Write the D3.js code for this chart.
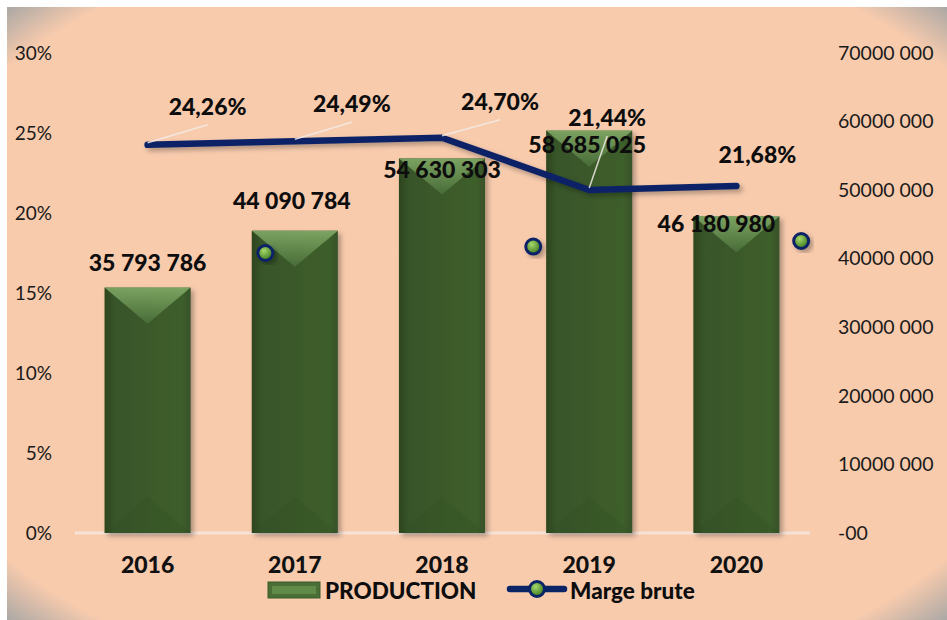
<!DOCTYPE html>
<html>
<head>
<meta charset="utf-8">
<script src="https://cdn.jsdelivr.net/npm/d3@7"></script>
<style>
  body { margin: 0; background: #fff; }
  svg { display: block; font-family: Lato, "Open Sans", sans-serif; }
</style>
</head>
<body>
<svg></svg>
<script>
// chart data
let years = ['2016', '2017', '2018', '2019', '2020'];
let production = [35793786, 44090784, 54630303, 58685025, 46180980];
let productionLabels = ['35 793 786', '44 090 784', '54 630 303', '58 685 025', '46 180 980'];
let marge = [24.26, 24.49, 24.70, 21.44, 21.68];
let margeLabels = ['24,26%', '24,49%', '24,70%', '21,44%', '21,68%'];
// stray markers of the line series (category position, value %)
let markerPos = [0.8, 2.62, 4.44];
let markerVals = [17.5, 17.9, 18.25];
let leftTicks = [0, 5, 10, 15, 20, 25, 30];
let leftTickLabels = ['0%', '5%', '10%', '15%', '20%', '25%', '30%'];
let rightTicks = [0, 10e6, 20e6, 30e6, 40e6, 50e6, 60e6, 70e6];
let rightTickLabels = ['-00', '10000 000', '20000 000', '30000 000', '40000 000', '50000 000', '60000 000', '70000 000'];

// label offsets (layout only)
let barLabelOff = [[0, -25], [-3, -30], [0, 12], [-2, 14], [-20, 8]];
let pctLabelOff = [[60, -38], [57, -37], [58, -36], [18, -72], [21, -31]];
let showLeader = [true, true, true, true, false];

let width = 947;
let height = 620;
let plotTop = 53, plotBottom = 533;
let plotLeft = 74, plotRight = 810;

let svg = d3.select('svg').attr('width', width).attr('height', height);
let defs = svg.append('defs');

let bg = defs.append('radialGradient').attr('id', 'bg')
    .attr('cx', 0.5).attr('cy', 0.5).attr('r', 0.71);
bg.append('stop').attr('offset', 0).attr('stop-color', '#f8cbad');
bg.append('stop').attr('offset', 0.9).attr('stop-color', '#f8cbad');
bg.append('stop').attr('offset', 1).attr('stop-color', '#a8a6a4');

let barGrad = defs.append('linearGradient').attr('id', 'barGrad')
    .attr('x1', 0).attr('x2', 1).attr('y1', 0).attr('y2', 0);
barGrad.append('stop').attr('offset', 0).attr('stop-color', '#2c451d');
barGrad.append('stop').attr('offset', 0.12).attr('stop-color', '#38552a');
barGrad.append('stop').attr('offset', 0.9).attr('stop-color', '#3e5e2c');
barGrad.append('stop').attr('offset', 1).attr('stop-color', '#36522a');

let bevel = defs.append('linearGradient').attr('id', 'bevel')
    .attr('x1', 0).attr('x2', 0).attr('y1', 0).attr('y2', 1);
bevel.append('stop').attr('offset', 0).attr('stop-color', '#8cb56f');
bevel.append('stop').attr('offset', 1).attr('stop-color', '#4b703a');

let ball = defs.append('radialGradient').attr('id', 'ball')
    .attr('cx', 0.4).attr('cy', 0.35).attr('r', 0.65);
ball.append('stop').attr('offset', 0).attr('stop-color', '#a6d86a');
ball.append('stop').attr('offset', 1).attr('stop-color', '#3d7a1f');

let shadow = defs.append('filter').attr('id', 'shadow')
    .attr('x', -0.3).attr('y', -0.3).attr('width', 1.6).attr('height', 1.6);
shadow.append('feDropShadow').attr('dx', 3).attr('dy', 3).attr('stdDeviation', 2.5)
    .attr('flood-color', '#000').attr('flood-opacity', 0.3);

svg.append('rect').attr('x', 7).attr('y', 7).attr('width', width - 7).attr('height', height - 7)
    .attr('fill', 'url(#bg)');

// scales
let xScale = d3.scaleBand().domain(years).range([plotLeft, plotRight]).paddingInner(0.415).paddingOuter(0.2075);
let posScale = d3.scaleLinear().domain([0, years.length - 1])
    .range([xScale(years[0]) + xScale.bandwidth() / 2, xScale(years[4]) + xScale.bandwidth() / 2]);
let yLeft = d3.scaleLinear().domain([0, 30]).range([plotBottom, plotTop]);
let yRight = d3.scaleLinear().domain([0, 70e6]).range([plotBottom, plotTop]);

// zero line
svg.append('line').attr('x1', 75).attr('x2', plotRight).attr('y1', yLeft(0)).attr('y2', yLeft(0))
    .attr('stroke', '#f6e2d6').attr('stroke-width', 3);

// axes (text only)
let leftAxis = d3.axisLeft(yLeft).tickValues(leftTicks).tickSize(0).tickPadding(0)
    .tickFormat((d, i) => leftTickLabels[i]);
svg.append('g').attr('transform', 'translate(52,0)').call(leftAxis)
    .call(g => g.select('.domain').remove())
    .selectAll('text').attr('font-size', 19).attr('font-family', 'Lato').attr('fill', '#1a1a1a');

let rightAxis = d3.axisRight(yRight).tickValues(rightTicks).tickSize(0).tickPadding(0)
    .tickFormat((d, i) => rightTickLabels[i]);
svg.append('g').attr('transform', 'translate(838,0)').call(rightAxis)
    .call(g => g.select('.domain').remove())
    .selectAll('text').attr('font-size', 19.5).attr('font-family', 'Lato').attr('fill', '#1a1a1a');

let xAxis = d3.axisBottom(xScale).tickSize(0).tickPadding(0);
svg.append('g').attr('transform', 'translate(0,' + (plotBottom + 24) + ')').call(xAxis)
    .call(g => g.select('.domain').remove())
    .selectAll('text').attr('font-size', 23).attr('font-weight', 900)
    .attr('font-family', 'Lato').attr('fill', '#111');

// bars
let bars = svg.append('g').selectAll('g').data(production).enter().append('g');
bars.append('rect')
    .attr('x', (d, i) => xScale(years[i]))
    .attr('y', d => yRight(d))
    .attr('width', xScale.bandwidth())
    .attr('height', d => plotBottom - yRight(d))
    .attr('fill', 'url(#barGrad)')
    .attr('filter', 'url(#shadow)');
bars.append('path')
    .attr('d', (d, i) => {
        let x0 = xScale(years[i]), w = xScale.bandwidth(), y0 = yRight(d);
        return 'M' + x0 + ',' + y0 + 'L' + (x0 + w) + ',' + y0 + 'L' + (x0 + w / 2) + ',' + (y0 + w * 0.42) + 'Z';
    })
    .attr('fill', 'url(#bevel)').attr('opacity', 0.8);
bars.append('path')
    .attr('d', (d, i) => {
        let x0 = xScale(years[i]), w = xScale.bandwidth();
        return 'M' + x0 + ',' + plotBottom + 'L' + (x0 + w) + ',' + plotBottom + 'L' + (x0 + w / 2) + ',' + (plotBottom - w * 0.42) + 'Z';
    })
    .attr('fill', '#2f4b20').attr('opacity', 0.2);

// line
let line = d3.line().x((d, i) => posScale(i)).y(d => yLeft(d));
svg.append('path').datum(marge).attr('d', line)
    .attr('fill', 'none').attr('stroke', '#0b2466').attr('stroke-width', 6.5)
    .attr('stroke-linecap', 'round').attr('stroke-linejoin', 'round')
    .attr('filter', 'url(#shadow)');

// markers
svg.append('g').selectAll('circle').data(markerVals).enter().append('circle')
    .attr('cx', (d, i) => posScale(markerPos[i]))
    .attr('cy', d => yLeft(d))
    .attr('r', 7.5)
    .attr('fill', 'url(#ball)').attr('stroke', '#0b2466').attr('stroke-width', 3)
    .attr('filter', 'url(#shadow)');

// leader lines
svg.append('g').selectAll('line').data(marge).enter()
    .filter((d, i) => showLeader[i])
    .append('line')
    .attr('x1', (d, i) => posScale(i))
    .attr('y1', d => yLeft(d) - 2)
    .attr('x2', (d, i) => posScale(i) + pctLabelOff[i][0])
    .attr('y2', (d, i) => yLeft(d) + pctLabelOff[i][1] + 18)
    .attr('stroke', '#f3ece8').attr('stroke-width', 1.5).attr('opacity', 0.85);

// bar labels
svg.append('g').selectAll('text').data(production).enter().append('text')
    .attr('x', (d, i) => posScale(i) + barLabelOff[i][0])
    .attr('y', (d, i) => yRight(d) + barLabelOff[i][1])
    .attr('dy', '0.35em')
    .attr('text-anchor', 'middle')
    .attr('font-size', 23).attr('font-weight', 900).attr('fill', '#0d0d0d')
    .text((d, i) => productionLabels[i]);

// percent labels
svg.append('g').selectAll('text').data(marge).enter().append('text')
    .attr('x', (d, i) => posScale(i) + pctLabelOff[i][0])
    .attr('y', (d, i) => yLeft(d) + pctLabelOff[i][1])
    .attr('dy', '0.35em')
    .attr('text-anchor', 'middle')
    .attr('font-size', 23).attr('font-weight', 900).attr('fill', '#0d0d0d')
    .text((d, i) => margeLabels[i]);

// legend
let legend = svg.append('g');
legend.append('rect').attr('x', 268).attr('y', 582).attr('width', 52).attr('height', 16)
    .attr('fill', '#4a6e36').attr('stroke', '#3b5a28');
legend.append('rect').attr('x', 272).attr('y', 586).attr('width', 44).attr('height', 8)
    .attr('fill', '#5f8a47');
legend.append('text').attr('x', 325).attr('y', 591).attr('dy', '0.35em')
    .attr('font-size', 22.5).attr('font-weight', 900).attr('fill', '#0d0d0d').text('PRODUCTION');
legend.append('line').attr('x1', 510).attr('x2', 564).attr('y1', 589).attr('y2', 589)
    .attr('stroke', '#0b2466').attr('stroke-width', 6.5).attr('stroke-linecap', 'round');
legend.append('circle').attr('cx', 537).attr('cy', 589).attr('r', 7.5)
    .attr('fill', 'url(#ball)').attr('stroke', '#0b2466').attr('stroke-width', 3);
legend.append('text').attr('x', 570).attr('y', 591).attr('dy', '0.35em')
    .attr('font-size', 22.5).attr('font-weight', 900).attr('fill', '#0d0d0d').text('Marge brute');
</script>
</body>
</html>
